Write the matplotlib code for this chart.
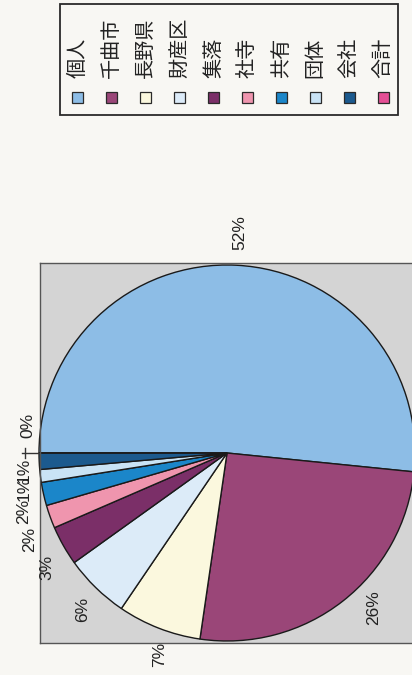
import numpy as np
import matplotlib
matplotlib.use("Agg")
import matplotlib.pyplot as plt
from matplotlib.patches import Rectangle

# slices in order (clockwise from the left, as scanned)
names = ["個人", "千曲市", "長野県", "財産区", "集落", "社寺", "共有", "団体", "会社", "合計"]
shares = [51.6, 25.7, 7.2, 5.6, 3.4, 2.0, 2.0, 1.1, 1.4, 0.0]
colors = ["#8dbde6", "#9a4678", "#fbf8de", "#dcebf8", "#7b2f68",
          "#ef95ae", "#1b86c9", "#c9e3f5", "#1c5a8e", "#e54f95"]
pct_labels = [f"{round(v)}%" for v in shares]

# label positions (data units, pie radius = 1)
label_xy = [(0.07, 1.17), (0.78, -0.82), (-0.36, -1.07), (-0.77, -0.83),
            (-0.96, -0.61), (-1.05, -0.46), (-1.08, -0.31), (-1.08, -0.19),
            (-1.08, -0.095), (-1.06, 0.145)]

W, H = 412, 675
fig = plt.figure(figsize=(W / 100, H / 100), dpi=100)
fig.patch.set_facecolor("#f8f7f3")

# plot area box: x 40..414 px, y 263..643 px, pie radius 188 px
ax = fig.add_axes([40 / W, (H - 643) / H, 374 / W, 380 / H])
ax.pie(shares, colors=colors, startangle=180, counterclock=False, radius=1.0,
       wedgeprops=dict(edgecolor="#1a1a1a", linewidth=1.0))
ax.set_aspect("auto")
ax.set_xlim(-187 / 188, 187 / 188)
ax.set_ylim(-190 / 188, 190 / 188)
ax.set_frame_on(True)
ax.set_facecolor("#d4d4d4")
for s in ax.spines.values():
    s.set_color("#555555")
    s.set_linewidth(1.0)
ax.set_xticks([])
ax.set_yticks([])

for lab, (x, y) in zip(pct_labels, label_xy):
    ax.text(x, y, lab, rotation=90, ha="center", va="center", fontsize=12.5,
            family="Liberation Sans", color="#222222", clip_on=False)

# leader line for the 0% slice
ax.plot([-1.0, -1.09], [0.0, 0.0], color="#333333", lw=1.0, clip_on=False)
ax.plot([-1.075, -1.075], [-0.025, 0.025], color="#333333", lw=1.0, clip_on=False)

# legend (rotated with the scan): a row of swatches with vertical text
lax = fig.add_axes([0, 0, 1, 1])
lax.set_xlim(0, W)
lax.set_ylim(H, 0)
lax.axis("off")
lax.add_patch(Rectangle((60, 4), 338, 111, facecolor="none",
                        edgecolor="#2a2a2a", lw=1.3))
x0, dx = 78, 33.9
for i, (nm, c) in enumerate(zip(names, colors)):
    x = x0 + dx * i
    lax.add_patch(Rectangle((x - 5.5, 92), 11, 11, facecolor=c,
                            edgecolor="#2a2a2a", lw=0.9))
    lax.text(x, 78, nm, rotation=90, ha="center", va="bottom", fontsize=14.5,
             family=["Noto Sans CJK JP", "DejaVu Sans"], color="#222222")

fig.savefig("out.png", dpi=100, facecolor=fig.get_facecolor())
